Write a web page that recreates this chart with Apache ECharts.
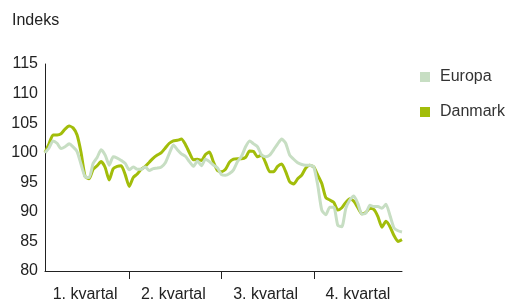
<!DOCTYPE html>
<html>
<head>
<meta charset="utf-8">
<script src="https://cdn.jsdelivr.net/npm/echarts@6/dist/echarts.min.js"></script>
<style>
  html, body { margin: 0; padding: 0; background: #fff; }
  #container { width: 507px; height: 304px; }
</style>
</head>
<body>
<div id="container"></div>
<script>
// observations per quarter
var quarterNames = ['1. kvartal', '2. kvartal', '3. kvartal', '4. kvartal'];
var quarterCounts = [21, 23, 23, 23];

var yTicks = [80, 85, 90, 95, 100, 105, 110, 115];

var danmark = [
	100.0, 101.5, 103.0, 103.0, 103.2, 104.0, 104.5, 104.2, 103.0, 100.0,
	96.0, 95.6, 97.2, 97.8, 98.5, 97.5, 95.4, 97.3, 97.7, 97.8,
	96.3, 94.3, 95.8, 96.4, 97.2, 97.7, 98.4, 99.1, 99.6, 100.0,
	100.8, 101.6, 102.0, 102.1, 102.3, 101.4, 100.0, 98.8, 98.9, 98.7,
	99.7, 100.1, 98.4, 97.0, 96.8, 97.2, 98.4, 98.9, 99.0, 99.0,
	99.2, 100.3, 100.2, 99.3, 99.6, 98.3, 96.8, 96.8, 97.7, 98.1,
	96.8, 95.1, 94.7, 95.6, 96.2, 97.4, 97.9, 97.6, 96.2, 94.8,
	92.4, 92.0, 91.6, 90.3, 90.7, 91.6, 92.2, 91.8, 90.7, 89.7,
	89.9, 90.6, 90.4, 89.2, 87.4, 88.4, 87.5, 86.0, 85.0, 85.3
];

var europa = [
	100.0, 100.8, 102.0, 101.6, 100.7, 101.0, 101.5, 101.0, 100.2, 98.0,
	95.9, 95.8, 98.2, 99.2, 100.5, 99.6, 97.9, 99.3, 99.1, 98.7,
	98.2, 97.1, 97.6, 97.2, 97.2, 97.6, 97.0, 97.3, 97.4, 97.6,
	98.3, 99.9, 101.3, 100.5, 99.8, 99.4, 98.5, 97.7, 98.6, 97.8,
	98.9, 98.5, 97.9, 97.4, 96.3, 96.2, 96.5, 97.1, 98.5, 99.4,
	101.0, 102.0, 101.5, 101.0, 99.6, 99.3, 99.6, 100.5, 101.5, 102.3,
	101.6, 99.6, 98.9, 98.3, 98.0, 97.9, 97.9, 97.6, 94.5, 90.3,
	89.5, 90.8, 90.8, 87.7, 87.5, 90.6, 92.0, 92.7, 91.4, 89.6,
	89.8, 91.1, 90.9, 90.9, 90.6, 91.3, 89.4, 87.3, 86.8, 86.6
];

// build category list: quarter of each observation
var categories = [];
var quarterStart = [];
var quarterMid = [];
quarterCounts.forEach(function(n, q) {
	quarterStart.push(categories.length);
	quarterMid.push(categories.length + Math.floor((n - 1) / 2));
	for (var i = 0; i < n; i++) categories.push(quarterNames[q]);
});

var textFont = '"Liberation Sans", Arial, sans-serif';
var myChart = echarts.init(document.getElementById('container'));
var option = {
	animation: false,
	title: {
		text: 'Indeks',
		left: 12,
		top: 13,
		padding: 0,
		textStyle: { fontSize: 16, fontWeight: 'normal', color: '#222', fontFamily: textFont }
	},
	legend: {
		data: ['Europa', 'Danmark'],
		orient: 'vertical',
		left: 420,
		top: 69,
		padding: 0,
		itemWidth: 10,
		itemHeight: 10,
		itemGap: 19,
		icon: 'rect',
		textStyle: { fontSize: 16, lineHeight: 16, color: '#333', fontFamily: textFont, padding: [0, 0, 0, 5] }
	},
	grid: { left: 45, right: 105, top: 64, bottom: 33 },
	xAxis: {
		type: 'category',
		data: categories,
		boundaryGap: false,
		axisLine: { lineStyle: { color: '#222', width: 1 } },
		axisTick: {
			show: true,
			length: 8,
			interval: function(index) { return quarterStart.indexOf(index) > 0; },
			lineStyle: { color: '#222' }
		},
		axisLabel: {
			interval: function(index) { return quarterMid.indexOf(index) >= 0; },
			margin: 16,
			fontSize: 16,
			color: '#222',
			fontFamily: textFont
		},
		splitLine: { show: false }
	},
	yAxis: {
		type: 'value',
		min: yTicks[0],
		max: yTicks[yTicks.length - 1],
		interval: 5,
		axisLine: { show: true, lineStyle: { color: '#222', width: 1 } },
		axisTick: { show: false },
		splitLine: { show: false },
		axisLabel: { margin: 7, fontSize: 16, color: '#222', fontFamily: textFont }
	},
	series: [
		{
			name: 'Danmark',
			type: 'line',
			data: danmark,
			showSymbol: false,
			smooth: 0.2,
			color: '#a2bd0a',
			lineStyle: { width: 3, color: '#a2bd0a', join: 'round' }
		},
		{
			name: 'Europa',
			type: 'line',
			data: europa,
			showSymbol: false,
			smooth: 0.2,
			color: '#c7dec3',
			lineStyle: { width: 3, color: '#c7dec3', join: 'round' }
		}
	]
};
myChart.setOption(option, true);
</script>
</body>
</html>
